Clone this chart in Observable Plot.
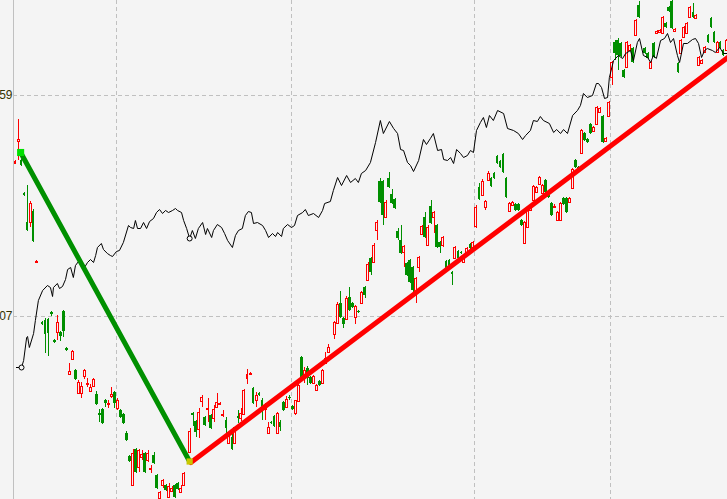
<!DOCTYPE html>
<html>
<head>
<meta charset="utf-8">
<script src="https://cdn.jsdelivr.net/npm/d3@7"></script>
<script src="https://cdn.jsdelivr.net/npm/@observablehq/plot@0.6"></script>
<style>
  html, body { margin: 0; padding: 0; background: #f4f4f4; }
  #chart { width: 727px; height: 499px; overflow: hidden; }
</style>
</head>
<body>
<div id="chart"></div>
<script>
// candles: [index, open, high, low, close]
const candles = [
[0,337,340,336,339],[1,359,381,340,361],[2,340,341,334,335],[3,307,308,304,305],
[4,278,315,269,270],[5,278,299,273,297],[6,289,291,258,259],[7,238,240,238,239],
[9,178,179,175,176],[10,180,182,147,166],[11,181,182,144,167],[12,188,189,184,186],
[13,160,161,157,158],[14,168,185,160,178],[15,168,169,159,164],[16,189,190,163,169],
[17,152,153,149,150],[18,126,137,125,129],[19,141,150,140,149],[20,130,131,120,121],
[21,107,120,106,118],[22,107,118,102,114],[23,124,131,121,130],[24,116,122,113,117],
[25,109,116,108,113],[26,114,122,113,121],[27,106,109,95,96],[28,87,91,78,85],
[29,91,92,76,77],[30,100,101,93,97],[31,96,100,92,97],[32,104,113,102,106],
[33,108,109,92,97],[34,92,102,90,100],[35,90,91,82,83],[36,86,87,76,77],
[37,67,69,59,60],[38,44,45,38,39],[39,15,51,14,47],[40,51,52,27,28],
[41,33,51,28,50],[42,43,50,40,46],[43,47,48,27,28],[44,40,50,38,47],
[45,31,35,27,32],[46,45,48,36,37],[47,25,26,11,12],[48,2,9,1,8],
[49,15,21,12,20],[50,15,16,9,10],[51,3,17,2,14],[52,9,14,8,12],
[53,15,16,2,3],[54,17,18,10,11],[55,8,15,7,12],[56,15,28,14,27],
[58,48,72,47,69],[59,87,88,74,85],[60,79,80,63,68],[61,71,92,62,88],
[62,99,105,93,103],[63,83,84,74,75],[64,91,102,78,92],[65,85,86,71,72],
[66,82,95,78,91],[67,93,107,92,98],[68,96,98,95,97],[69,85,90,83,86],
[70,80,83,63,72],[71,57,69,56,68],[72,63,67,50,51],[73,57,74,56,73],
[74,84,90,77,82],[75,82,92,79,87],[76,86,111,85,110],[77,122,131,116,126],
[78,126,128,125,127],[79,112,113,96,97],[80,100,108,93,105],[81,107,108,104,105],
[82,100,102,80,90],[83,91,97,80,95],[84,67,78,66,73],[85,78,79,76,77],
[86,84,85,73,74],[87,67,88,66,87],[88,78,80,69,73],[89,98,99,89,90],
[90,93,104,92,101],[91,103,105,100,102],[92,94,95,90,91],[93,87,100,85,100],
[94,99,116,98,115],[95,143,144,122,123],[96,125,133,117,130],[97,132,134,115,122],
[98,123,124,116,117],[99,117,125,116,124],[100,110,116,109,115],[101,119,120,114,115],
[102,117,131,116,130],[103,137,148,136,142],[104,148,156,147,153],[106,166,179,161,178],
[107,177,198,176,196],[108,197,209,182,183],[109,182,183,172,176],[110,181,204,180,202],
[111,203,213,189,190],[112,197,198,192,193],[113,183,195,176,194],[114,189,190,187,188],
[115,197,209,196,208],[116,213,214,202,205],[117,220,238,219,236],[118,242,243,225,228],
[119,238,257,237,255],[120,270,280,260,278],[121,319,322,297,298],[122,319,320,275,285],
[123,283,300,282,298],[124,322,328,312,313],[125,306,311,296,297],[126,301,302,291,292],
[127,269,272,260,262],[128,260,275,246,247],[129,248,255,233,254],[130,237,238,224,225],
[131,240,241,217,218],[132,233,234,208,210],[133,207,223,197,222],[134,233,244,228,243],
[135,266,275,265,274],[136,283,288,262,263],[137,255,275,254,273],[138,294,300,276,277],
[139,283,289,267,288],[140,275,276,252,253],[141,258,259,247,253],[142,255,264,253,263],
[143,239,240,231,232],[144,240,241,231,232],[145,228,229,215,226],[146,242,254,241,253],
[147,249,250,241,242],[148,248,249,246,247],[149,238,244,237,243],[150,245,253,244,252],
[151,256,257,251,252],[152,253,259,252,258],[153,274,295,272,293],[154,313,317,300,301],
[155,305,321,304,319],[156,293,300,290,299],[157,320,329,319,327],[158,322,323,313,314],
[159,327,328,321,322],[160,344,345,336,337],[161,339,340,332,333],[162,346,347,327,328],
[163,322,323,302,303],[164,289,298,288,297],[165,295,299,294,298],[166,296,297,289,290],
[167,296,297,289,290],[168,280,281,274,275],[169,257,279,256,278],[170,273,293,272,292],
[171,290,296,289,295],[172,300,315,299,314],[173,308,314,307,313],[174,316,324,315,323],
[175,307,316,306,315],[176,320,321,307,308],[177,309,310,302,303],[178,297,298,284,285],
[179,293,296,292,294],[180,280,289,279,288],[181,280,298,279,297],[182,302,303,295,296],
[183,302,303,287,288],[184,298,303,297,302],[185,312,332,311,331],[186,340,341,332,333],
[187,333,334,331,332],[188,347,371,346,370],[189,367,368,359,360],[190,361,362,357,358],
[191,376,377,366,367],[192,369,374,368,373],[193,376,394,375,393],[194,388,393,387,392],
[195,384,385,357,358],[196,359,363,358,362],[197,384,399,383,398],[198,423,439,415,438],
[199,458,460,440,447],[200,460,462,430,445],[201,457,458,443,444],[202,430,431,422,423],
[203,433,459,432,458],[204,450,456,449,455],[205,452,453,437,438],[206,465,481,464,480],
[207,495,499,482,483],[209,452,453,446,447],[210,447,448,441,442],[211,432,439,431,438],
[212,457,458,442,443],[213,467,470,466,469],[214,468,471,467,470],[215,467,484,466,483],
[216,477,478,472,473],[217,493,494,488,489],[218,499,500,471,472],[219,469,472,468,471],
[220,437,438,427,428],[221,447,461,446,460],[222,463,474,462,473],[223,467,478,466,477],
[224,483,494,482,493],[225,488,497,482,483],[226,482,486,481,485],[227,435,444,434,443],
[228,437,441,436,440],[229,448,454,447,453],[230,465,466,457,458],[231,482,483,472,473],
[232,468,469,457,458],[233,448,459,447,458],[234,458,459,451,452],[235,450,451,444,445],
[236,450,461,449,460]
];

// black overlay line: index positions and values
const lineIdx = [0.3,2.0,2.7,3.7,4.0,4.6,6.0,6.6,7.6,9.0,10.6,11.6,12.3,12.6,13.9,14.6,15.6,16.6,17.3,18.3,
19.2,19.9,20.9,22.2,22.9,23.9,24.9,25.9,26.6,27.2,28.5,29.2,30.5,31.5,32.2,33.5,34.5,35.8,37.5,
38.2,39.2,39.8,40.5,41.5,42.5,43.5,44.5,45.8,46.8,47.8,48.8,49.8,50.8,52.1,53.1,53.8,55.1,55.8,56.8,
57.8,58.7,59.7,60.7,62.1,63.1,63.7,65.1,65.7,67.0,68.4,69.4,70.4,72.0,73.0,74.0,75.3,76.3,77.3,78.3,
79.0,80.3,82.0,83.0,84.0,85.3,86.3,87.0,88.3,88.9,90.3,91.6,92.6,93.6,95.3,96.2,97.2,98.9,100.6,101.9,
102.6,104.5,105.5,106.9,108.2,109.9,111.2,112.8,113.8,114.8,116.2,
117.8,119.5,121.1,122.1,124.1,125.5,126.8,127.8,128.8,130.1,131.1,132.1,133.8,135.4,136.4,137.7,138.7,
140.1,141.4,142.1,143.4,144.4,145.4,146.4,147.7,148.7,150.0,151.0,152.0,153.0,154.3,155.3,156.3,157.3,
158.6,160.0,162.0,163.3,165.3,166.9,168.3,169.3,170.9,171.9,173.2,174.2,175.2,177.2,178.6,179.6,180.9,
181.9,183.2,184.9,186.5,187.5,188.5,189.8,191.5,192.8,193.5,194.5,195.5,196.5,197.1,198.5,
200.1,201.5,202.5,204.1,205.1,206.4,207.1,208.4,209.8,210.8,211.7,212.7,214.1,215.4,216.4,217.4,218.4,
219.7,220.4,221.7,223.0,224.7,225.7,226.7,227.7,228.7,229.6,231.3,232.3,233.7,235.0,236.3];
const lineVal = [133,133,140,163,164,153,167,180,200,210,215,213,204,213,217,212,214,221,231,233,
223,235,239,238,233,238,241,238,245,253,257,251,247,245,244,249,250,258,275,
273,272,280,272,272,278,272,279,282,288,291,287,290,288,290,292,290,288,280,272,
262,270,262,272,278,266,272,263,270,276,273,267,260,253,265,270,272,285,289,288,
277,278,275,270,263,267,264,268,264,272,276,273,275,285,288,291,285,287,283,290,
297,299,310,323,315,325,318,322,318,327,330,
338,358,380,367,379,372,367,351,350,338,335,329,340,361,356,362,367,
350,351,341,340,343,337,351,347,343,345,350,348,370,378,383,373,385,
380,390,387,372,370,367,361,365,370,380,379,384,380,377,368,371,367,
371,367,385,390,395,407,403,405,417,417,413,402,403,423,440,
445,442,447,450,440,458,462,445,443,438,445,442,460,462,467,458,462,
445,438,457,457,461,462,457,443,450,452,450,448,453,447,447];
const lineMarkIdx = [2.0, 57.8];
const lineMarkVal = [133, 262];

// trend lines
const greenTrendIdx = [1.7, 57.8];
const greenTrendVal = [348, 39];
const redTrendIdx = [58.2, 236.4];
const redTrendVal = [38, 443];

// grid and tick labels
const yTickVals = [405, 184];
const yTickLabels = ["59", "07"];
const xGridIdx = [33.5, 91.5, 152.5, 197.5];

const xDomain = [-0.664, 236.31];
const UP = "#ff0000", DOWN = "#008f00", BG = "#f4f4f4";
const isUp = d => d[4] >= d[1];

const lineData = lineIdx.map((x, k) => ({x, y: lineVal[k]}));
const greenData = greenTrendIdx.map((x, k) => ({x, y: greenTrendVal[k]}));
const redData = redTrendIdx.map((x, k) => ({x, y: redTrendVal[k]}));
const markData = lineMarkIdx.map((x, k) => ({x, y: lineMarkVal[k]}));

const crisp = {shapeRendering: "crispEdges"};

const chart = Plot.plot({
  width: 727,
  height: 499,
  marginLeft: 13, marginRight: 0, marginTop: 0, marginBottom: 0,
  x: {domain: xDomain, axis: null},
  y: {domain: [1, 500], axis: null},
  style: {background: BG, fontFamily: "Liberation Sans, Arial, sans-serif"},
  marks: [
    Plot.ruleY(yTickVals, {stroke: "#c0c0c0", strokeDasharray: "4,3", ...crisp}),
    Plot.ruleX(xGridIdx, {stroke: "#c0c0c0", strokeDasharray: "4,3", ...crisp}),
    Plot.ruleX([xDomain[0]], {stroke: "#c0c0c0", strokeWidth: 1.5, ...crisp}),
    Plot.text(yTickVals, {y: d => d, text: (d, k) => yTickLabels[k], frameAnchor: "left", textAnchor: "end", dx: -1, fontSize: 12, fill: "#333300"}),
    Plot.ruleX(candles, {x: d => d[0], y1: d => d[3], y2: d => d[2], stroke: d => isUp(d) ? UP : DOWN, strokeWidth: 1, ...crisp}),
    Plot.rect(candles.filter(d => !isUp(d)), {x1: d => d[0] - 0.45, x2: d => d[0] + 0.45, y1: d => d[1], y2: d => d[4], fill: DOWN, ...crisp}),
    Plot.rect(candles.filter(isUp), {x1: d => d[0] - 0.33, x2: d => d[0] + 0.33, y1: d => d[1], y2: d => d[4], fill: BG, stroke: UP, strokeWidth: 1, ...crisp}),
    Plot.line(lineData, {x: "x", y: "y", stroke: "#000", strokeWidth: 1}),
    Plot.dot(markData, {x: "x", y: "y", r: 2.5, stroke: "#000", fill: BG, strokeWidth: 1}),
    Plot.line(greenData, {x: "x", y: "y", stroke: "#009000", strokeWidth: 5}),
    Plot.line(redData, {x: "x", y: "y", stroke: "#ff0000", strokeWidth: 5}),
    Plot.dot(greenData.slice(0, 1), {x: "x", y: "y", symbol: "square", r: 4, fill: "#00e000"}),
    Plot.dot(greenData.slice(1), {x: "x", y: "y", symbol: "square", r: 3.5, fill: "#c8c800"})
  ]
});
document.getElementById("chart").appendChild(chart);
</script>
</body>
</html>
